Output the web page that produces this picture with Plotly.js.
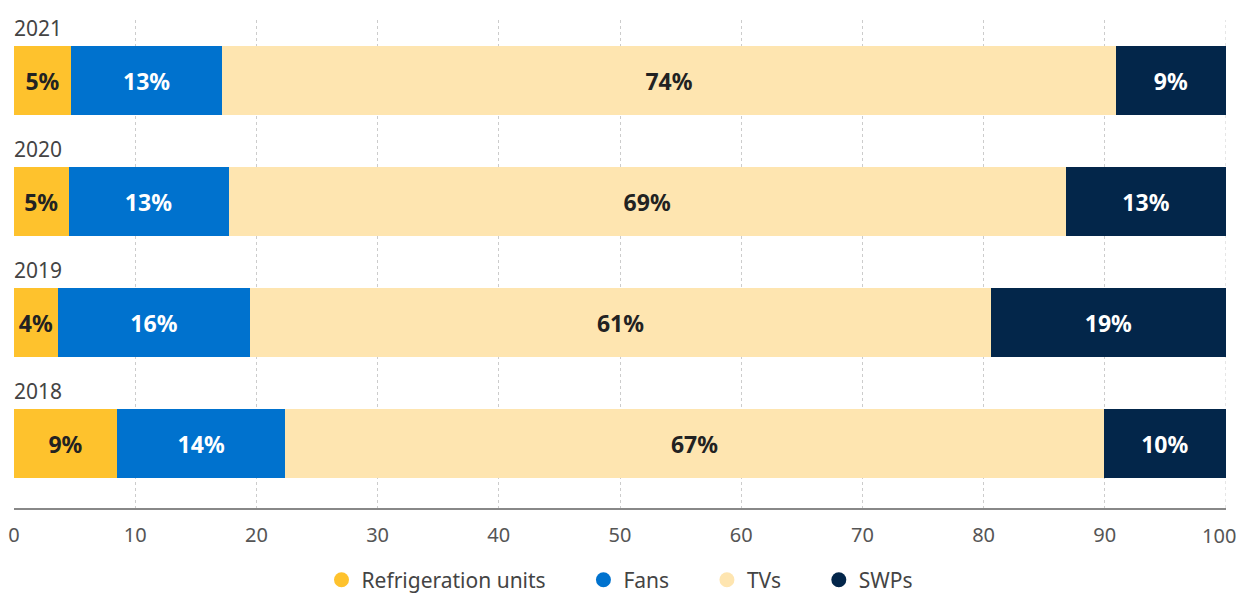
<!DOCTYPE html>
<html>
<head>
<meta charset="utf-8">
<script src="https://cdn.plot.ly/plotly-3.0.1.min.js"></script>
<style>html,body{margin:0;padding:0;background:#fff;}#chart{width:1236px;height:594px;}</style>
</head>
<body>
<div id="chart"></div>
<script>
const years = ["2018", "2019", "2020", "2021"];
const refrigeration = [8.5, 3.6, 4.5, 4.7];
const fans = [13.9, 15.9, 13.2, 12.5];
const tvs = [67.5, 61.1, 69.1, 73.7];
const swps = [10.1, 19.4, 13.2, 9.1];
const refLabels = ["9%", "4%", "5%", "5%"];
const fanLabels = ["14%", "16%", "13%", "13%"];
const tvLabels = ["67%", "61%", "69%", "74%"];
const swpLabels = ["10%", "19%", "13%", "9%"];
const seriesNames = ["Refrigeration units", "Fans", "TVs", "SWPs"];
const xTickVals = [0, 10, 20, 30, 40, 50, 60, 70, 80, 90];
const xLastTick = 100;
const colors = ["#FEC22D", "#0072CE", "#FEE5B0", "#03264A"];
const textColors = ["#222222", "#ffffff", "#222222", "#ffffff"];

const FONT = "'Noto Sans', sans-serif";
const PAD = "\u00a0\u00a0\u00a0\u00a0\u00a0\u00a0";
const yIdx = years.map((_, i) => i);
const vals = [refrigeration, fans, tvs, swps];
const labs = [refLabels, fanLabels, tvLabels, swpLabels];

const traces = vals.map((v, k) => ({
  type: "bar", orientation: "h", x: v, y: yIdx, name: seriesNames[k],
  width: 0.57, marker: {color: colors[k], line: {width: 0}},
  text: labs[k], textposition: "inside", insidetextanchor: "middle",
  textfont: {family: FONT, size: 23, color: textColors[k], weight: 700},
  constraintext: "none", showlegend: false, hoverinfo: "x+name"
}));
seriesNames.forEach((n, k) => traces.push({
  type: "scatter", mode: "markers", x: [null], y: [null],
  name: k < seriesNames.length - 1 ? n + PAD : n,
  marker: {color: colors[k], size: 15, symbol: "circle"}, showlegend: true
}));

const annotations = years.map((yr, i) => ({
  text: yr, xref: "paper", x: 0, xanchor: "left", yref: "y", y: i + 0.285,
  yanchor: "bottom", yshift: 2, xshift: -2, showarrow: false,
  font: {family: FONT, size: 21, color: "#444"}
}));
annotations.push({
  text: String(xLastTick), xref: "x", x: xLastTick, xanchor: "right", xshift: 12,
  yref: "paper", y: 0, yanchor: "top", yshift: -12, showarrow: false,
  font: {family: FONT, size: 20, color: "#555"}
});

const layout = {
  width: 1236, height: 594, barmode: "stack",
  margin: {l: 14, r: 10, t: 20, b: 86},
  paper_bgcolor: "#fff", plot_bgcolor: "#fff",
  font: {family: FONT, size: 20, color: "#444"},
  xaxis: {range: [0, 100], tickmode: "array", tickvals: xTickVals, showgrid: true, gridcolor: "#cccccc",
    griddash: "dot", gridwidth: 1, zeroline: false, showline: true, linecolor: "#888",
    linewidth: 2, ticks: "", ticklabelstandoff: 8, tickfont: {family: FONT, size: 20, color: "#555"}, fixedrange: true},
  yaxis: {range: [-0.533, 3.5], showgrid: false, zeroline: false, showticklabels: false,
    showline: false, fixedrange: true},
  shapes: [{type: "line", xref: "x", yref: "paper", x0: xLastTick, x1: xLastTick, y0: 0, y1: 1,
    line: {color: "#cccccc", width: 1, dash: "dot"}, layer: "below"}],
  legend: {orientation: "h", traceorder: "normal", x: 0.5, xanchor: "center", yref: "container", y: 0.058, yanchor: "top",
    font: {family: FONT, size: 21, color: "#444"}, itemsizing: "trace", itemwidth: 30},
  annotations: annotations,
  showlegend: true
};
Plotly.newPlot("chart", traces, layout, {displayModeBar: false, staticPlot: true});
</script>
</body>
</html>
